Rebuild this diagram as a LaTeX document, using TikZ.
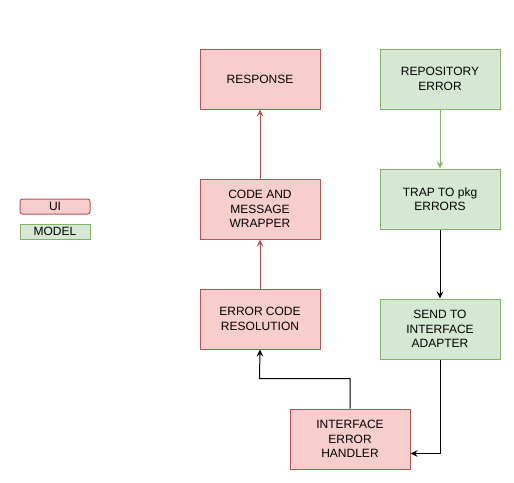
\documentclass[tikz,border=0pt]{standalone}
\usepackage{fontspec}
\setmainfont{Liberation Sans}
\usetikzlibrary{arrows.meta}
\definecolor{uifill}{HTML}{F8CECC}
\definecolor{uiline}{HTML}{B85450}
\definecolor{mfill}{HTML}{D5E8D4}
\definecolor{mline}{HTML}{82B366}
\tikzset{
  box/.style={draw, line width=1pt, minimum width=120pt, minimum height=60pt, inner sep=2pt, align=center, font=\fontsize{12pt}{14.3pt}\selectfont, anchor=north west},
  uibox/.style={box, fill=uifill, draw=uiline},
  mbox/.style={box, fill=mfill, draw=mline},
  legbox/.style={draw, line width=1pt, minimum width=70pt, minimum height=15pt, inner sep=0pt, font=\fontsize{12pt}{14pt}\selectfont, anchor=north west},
  conn/.style={line width=1pt, -{Stealth[length=7pt,width=6.5pt,inset=2.5pt]}},
}
\begin{document}
\begin{tikzpicture}[x=1pt,y=-1pt]
\useasboundingbox (0,0) rectangle (514,482);
\node[uibox] (resp) at (199.5,48.5) {RESPONSE};
\node[mbox] (repo) at (379.5,48.5) {REPOSITORY\\ERROR};
\node[uibox] (wrap) at (199.5,178.5) {CODE AND\\MESSAGE\\WRAPPER};
\node[mbox] (trap) at (379.5,168.5) {TRAP TO pkg\\ERRORS};
\node[uibox] (res) at (199.5,288.5) {ERROR CODE\\RESOLUTION};
\node[mbox] (send) at (379.5,298.5) {SEND TO\\INTERFACE\\ADAPTER};
\node[uibox] (ieh) at (289.5,408.5) {INTERFACE\\ERROR\\HANDLER};
\node[legbox, fill=uifill, draw=uiline, rounded corners=2.5pt] (lui) at (19.5,198.5) {UI};
\node[legbox, fill=mfill, draw=mline] (lmodel) at (19.5,223.5) {MODEL};
\draw[conn, uiline] (wrap.north) -- (resp.south);
\draw[conn, uiline] (res.north) -- (wrap.south);
\draw[conn, mline] (repo.south) -- (trap.north);
\draw[conn, black] (trap.south) -- (send.north);
\draw[conn, black] (send.south) |- (ieh.east |- 0,453.5);
\coordinate (c1) at (259.5,378.5);
\draw[conn, black] (ieh.north) |- (c1) -- (res.south);
\end{tikzpicture}
\end{document}
